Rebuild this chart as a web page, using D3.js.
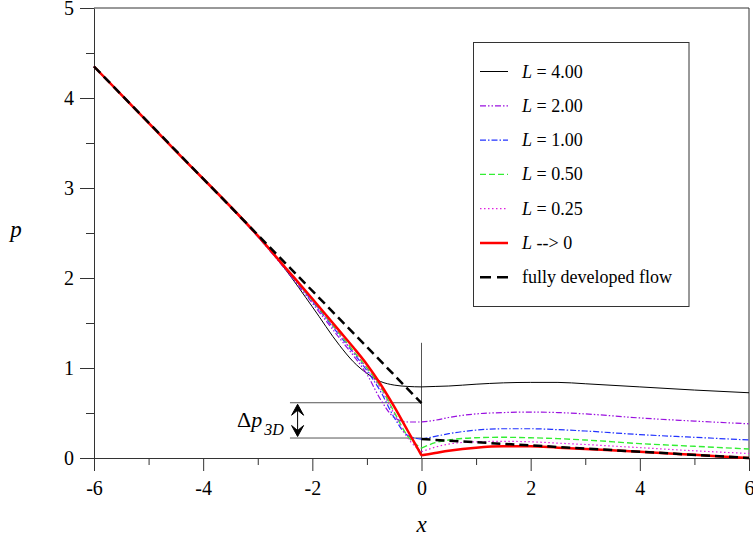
<!DOCTYPE html>
<html>
<head>
<meta charset="utf-8">
<script src="https://cdn.jsdelivr.net/npm/d3@7"></script>
<style>
  body { margin: 0; background: #fff; }
  svg { display: block; font-family: "Liberation Serif", "Times New Roman", serif; }
</style>
</head>
<body>
<div id="chart"></div>
<script>
// chart data
var upX = [-6, -4.5, -3, -2.5, -2, -1.5, -1.25, -1, -0.75, -0.5, -0.25, 0];
var upP = {
  "L4":   [4.35, 3.41, 2.47, 2.10, 1.68, 1.25, 1.07, 0.94, 0.85, 0.81, 0.795, 0.79],
  "L2":   [4.35, 3.41, 2.46, 2.10, 1.72, 1.33, 1.14, 0.93, 0.65, 0.45, 0.40, 0.40],
  "L1":   [4.35, 3.41, 2.46, 2.11, 1.74, 1.36, 1.17, 0.97, 0.74, 0.45, 0.25, 0.21],
  "L05":  [4.35, 3.41, 2.47, 2.12, 1.75, 1.38, 1.19, 1.00, 0.79, 0.51, 0.24, 0.11],
  "L025": [4.35, 3.41, 2.46, 2.11, 1.745, 1.37, 1.18, 0.99, 0.77, 0.49, 0.22, 0.07],
  "L0":   [4.35, 3.41, 2.47, 2.12, 1.77, 1.41, 1.23, 1.04, 0.82, 0.57, 0.30, 0.03]
};
var downX = [0, 0.25, 0.5, 1, 1.5, 2, 2.5, 3, 4, 5, 6];
var downP = {
  "L4":   [0.79, 0.795, 0.80, 0.82, 0.835, 0.84, 0.84, 0.825, 0.79, 0.755, 0.725],
  "L2":   [0.40, 0.42, 0.45, 0.49, 0.505, 0.51, 0.505, 0.49, 0.445, 0.41, 0.38],
  "L1":   [0.21, 0.24, 0.27, 0.31, 0.325, 0.325, 0.315, 0.30, 0.26, 0.23, 0.20],
  "L05":  [0.11, 0.17, 0.20, 0.225, 0.23, 0.225, 0.215, 0.20, 0.16, 0.13, 0.10],
  "L025": [0.07, 0.12, 0.155, 0.18, 0.185, 0.18, 0.165, 0.15, 0.115, 0.08, 0.05],
  "L0":   [0.03, 0.055, 0.08, 0.115, 0.13, 0.13, 0.115, 0.10, 0.07, 0.035, 0.0]
};
// fully developed flow (straight segments)
var fdUpX = [-6, 0];
var fdUpP = [4.35, 0.61];
var fdDownX = [0, 6];
var fdDownP = [0.21, 0.0];

var seriesKeys = ["L4", "L2", "L1", "L05", "L025", "L0"];
var seriesLabels = ["4.00", "2.00", "1.00", "0.50", "0.25", "--> 0"];

var xTicks = [-6, -4, -2, 0, 2, 4, 6];
var xMinor = [-5, -3, -1, 1, 3, 5];
var yTicks = [0, 1, 2, 3, 4, 5];
var yMinor = [0.5, 1.5, 2.5, 3.5, 4.5];

// delta p annotation levels
var dpTop = 0.614, dpBottom = 0.222, dpLeft = -2.41, dpArrowX = -2.27, refTop = 1.28;

var styles = {
  "L4":   {color: "#000000", width: 1,   dash: null},
  "L2":   {color: "#9a10e0", width: 1.2, dash: "6,2,1.5,2,1.5,2"},
  "L1":   {color: "#2233ff", width: 1.2, dash: "6,2,1.5,2"},
  "L05":  {color: "#33ee33", width: 1.4, dash: "6,3"},
  "L025": {color: "#e020e0", width: 1.2, dash: "1.5,2.5"},
  "L0":   {color: "#ff0000", width: 2.5, dash: null}
};
var fdStyle = {color: "#000000", width: 2.5, dash: "9,5"};

var svgWidth = 753;
var svgHeight = 538;
var margin = {top: 8, right: 4, bottom: 80, left: 94};
var width = svgWidth - margin.left - margin.right;
var height = svgHeight - margin.top - margin.bottom;

var svg = d3.select("#chart")
  .append("svg")
  .attr("width", svgWidth)
  .attr("height", svgHeight);

var g = svg.append("g")
  .attr("transform", `translate(${margin.left}, ${margin.top})`);

var x = d3.scaleLinear().domain([-6, 6]).range([0, width]);
var y = d3.scaleLinear().domain([0, 5]).range([height, 0]);

var axisColor = "#333";

// frame top and right
g.append("line").attr("x1", 0).attr("x2", width).attr("y1", 0).attr("y2", 0)
  .attr("stroke", axisColor);
g.append("line").attr("x1", width).attr("x2", width).attr("y1", 0).attr("y2", height)
  .attr("stroke", axisColor);

// axes
var fmt = d => (d < 0 ? "-" + Math.abs(d) : String(d));
g.append("g")
  .attr("transform", `translate(0, ${height})`)
  .call(d3.axisBottom(x).tickValues(xTicks).tickSize(13).tickSizeOuter(0).tickPadding(10).tickFormat(fmt));
g.append("g")
  .attr("transform", `translate(0, ${height})`)
  .call(d3.axisBottom(x).tickValues(xMinor).tickSize(7).tickFormat(""))
  .call(a => a.select(".domain").remove());
g.append("g")
  .call(d3.axisLeft(y).tickValues(yTicks).tickSize(14).tickSizeOuter(0).tickPadding(6).tickFormat(fmt));
g.append("g")
  .call(d3.axisLeft(y).tickValues(yMinor).tickSize(8).tickFormat(""))
  .call(a => a.select(".domain").remove());

g.selectAll(".domain, .tick line").attr("stroke", axisColor);
g.selectAll(".tick text")
  .attr("fill", "#000")
  .style("font-family", "'Liberation Serif', 'Times New Roman', serif")
  .style("font-size", "20px");

// axis titles
svg.append("text")
  .attr("x", 16).attr("y", 237)
  .attr("text-anchor", "middle")
  .style("font-size", "23px").style("font-style", "italic")
  .text("p");
svg.append("text")
  .attr("x", margin.left + x(0)).attr("y", 532)
  .attr("text-anchor", "middle")
  .style("font-size", "23px").style("font-style", "italic")
  .text("x");

// reference lines for delta p
var annColor = "#555";
g.append("line")
  .attr("x1", x(0)).attr("x2", x(0)).attr("y1", y(0)).attr("y2", y(refTop))
  .attr("stroke", annColor);
g.append("line")
  .attr("x1", x(dpLeft)).attr("x2", x(0)).attr("y1", y(dpTop)).attr("y2", y(dpTop))
  .attr("stroke", annColor);
g.append("line")
  .attr("x1", x(dpLeft)).attr("x2", x(0)).attr("y1", y(dpBottom)).attr("y2", y(dpBottom))
  .attr("stroke", annColor);

// double arrow
var ax = x(dpArrowX), aTop = y(dpTop) + 1.5, aBot = y(dpBottom) - 1.5;
g.append("line")
  .attr("x1", ax).attr("x2", ax).attr("y1", aTop + 4).attr("y2", aBot - 4)
  .attr("stroke", "#000").attr("stroke-width", 1);
g.append("path")
  .attr("d", `M${ax},${aTop} L${ax + 6},${aTop + 11} L${ax},${aTop + 6} L${ax - 6},${aTop + 11} Z`)
  .attr("fill", "#000").attr("stroke", "#000").attr("stroke-width", 1);
g.append("path")
  .attr("d", `M${ax},${aBot} L${ax + 6},${aBot - 11} L${ax},${aBot - 6} L${ax - 6},${aBot - 11} Z`)
  .attr("fill", "#000").attr("stroke", "#000").attr("stroke-width", 1);

var dpLabel = svg.append("text")
  .attr("x", 237).attr("y", 427)
  .style("font-size", "22px");
dpLabel.append("tspan").text("Δ");
dpLabel.append("tspan").style("font-style", "italic").text("p");
dpLabel.append("tspan").style("font-style", "italic").style("font-size", "16px")
  .attr("dy", 8).attr("dx", 2).text("3D");

// curves
var line = d3.line()
  .x(d => x(d[0]))
  .y(d => y(d[1]))
  .curve(d3.curveMonotoneX);

var curves = g.append("g");

function drawSeg(xs, ps, st) {
  curves.append("path")
    .datum(xs.map((v, i) => [v, ps[i]]))
    .attr("d", line)
    .attr("fill", "none")
    .attr("stroke", st.color)
    .attr("stroke-width", st.width)
    .attr("stroke-dasharray", st.dash);
}

seriesKeys.forEach(function(k) {
  drawSeg(upX, upP[k], styles[k]);
  drawSeg(downX, downP[k], styles[k]);
});
drawSeg(fdUpX, fdUpP, fdStyle);
drawSeg(fdDownX, fdDownP, fdStyle);

// legend
var legend = svg.append("g");
legend.append("rect")
  .attr("x", 473.5).attr("y", 42.5)
  .attr("width", 215.5).attr("height", 264)
  .attr("fill", "#fff")
  .attr("stroke", axisColor);

var rowY = d3.range(7).map(i => 71.5 + i * 34.3);
seriesKeys.forEach(function(k, i) {
  var st = styles[k];
  legend.append("line")
    .attr("x1", 480).attr("x2", 508).attr("y1", rowY[i]).attr("y2", rowY[i])
    .attr("stroke", st.color).attr("stroke-width", st.width)
    .attr("stroke-dasharray", st.dash);
  var t = legend.append("text")
    .attr("x", 522).attr("y", rowY[i] + 6)
    .style("font-size", "18px");
  t.append("tspan").style("font-style", "italic").text("L");
  t.append("tspan").text(i < 5 ? " = " + seriesLabels[i] : " " + seriesLabels[i]);
});
legend.append("line")
  .attr("x1", 480).attr("x2", 508).attr("y1", rowY[6]).attr("y2", rowY[6])
  .attr("stroke", fdStyle.color).attr("stroke-width", fdStyle.width)
  .attr("stroke-dasharray", "11,6");
legend.append("text")
  .attr("x", 522).attr("y", rowY[6] + 6)
  .style("font-size", "18px")
  .text("fully developed flow");
</script>
</body>
</html>
